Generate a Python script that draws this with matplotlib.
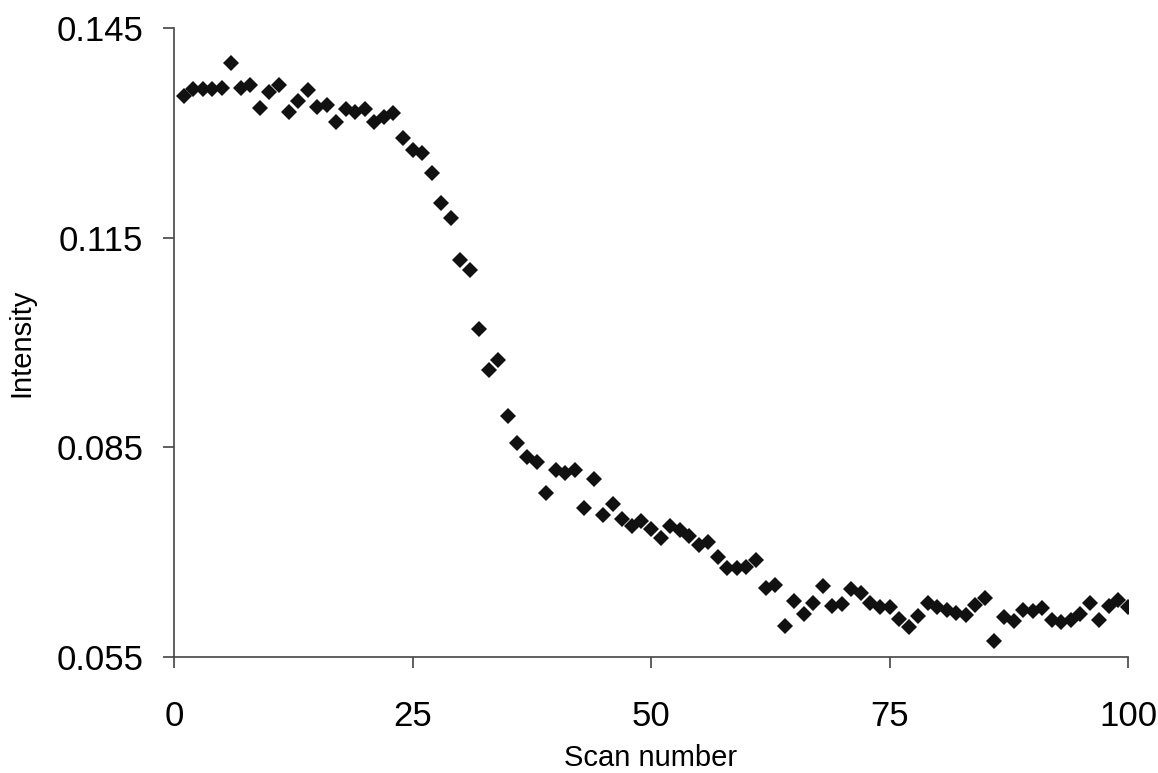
import matplotlib

matplotlib.use("Agg")
import matplotlib.pyplot as plt

scan = list(range(1, 101))
intensity = [
    0.1353, 0.1362, 0.1362, 0.1362, 0.1364, 0.1400, 0.1364, 0.1368, 0.1335, 0.1358,
    0.1368, 0.1330, 0.1345, 0.1361, 0.1337, 0.1340, 0.1316, 0.1334, 0.1330, 0.1334,
    0.1316, 0.1322, 0.1328, 0.1292, 0.1275, 0.1271, 0.1242, 0.1200, 0.1178, 0.1118,
    0.1104, 0.1019, 0.0961, 0.0975, 0.0895, 0.0856, 0.0836, 0.0829, 0.0784, 0.0818,
    0.0813, 0.0818, 0.0763, 0.0805, 0.0753, 0.0769, 0.0747, 0.0737, 0.0744, 0.0733,
    0.0721, 0.0737, 0.0732, 0.0723, 0.0710, 0.0714, 0.0693, 0.0678, 0.0678, 0.0679,
    0.0689, 0.0649, 0.0653, 0.0594, 0.0630, 0.0611, 0.0628, 0.0651, 0.0623, 0.0626,
    0.0647, 0.0642, 0.0628, 0.0621, 0.0622, 0.0604, 0.0593, 0.0609, 0.0628, 0.0622,
    0.0617, 0.0613, 0.0610, 0.0624, 0.0634, 0.0573, 0.0607, 0.0602, 0.0617, 0.0616,
    0.0620, 0.0603, 0.0600, 0.0603, 0.0611, 0.0628, 0.0603, 0.0623, 0.0632, 0.0622,
]
x_ticks = [0, 25, 50, 75, 100]
y_ticks = [0.055, 0.085, 0.115, 0.145]

plt.rcParams["font.family"] = ["Liberation Sans", "DejaVu Sans"]

fig = plt.figure(figsize=(11.58, 7.73), dpi=100)
ax = fig.add_axes([0.1503, 0.150, 0.8238, 0.8138])

ax.plot(scan, intensity, linestyle="none", marker="D", markersize=8,
        color="#111111", markeredgewidth=0)

ax.set_xlim(0, 100)
ax.set_ylim(0.055, 0.145)
ax.set_xticks(x_ticks)
ax.set_yticks(y_ticks)
ax.set_yticklabels([f"{v:.3f}" for v in y_ticks])

for side in ("top", "right"):
    ax.spines[side].set_visible(False)
for side in ("left", "bottom"):
    ax.spines[side].set_color("#444444")
    ax.spines[side].set_linewidth(1.2)

ax.tick_params(axis="both", direction="out", length=8, width=1.2, color="#444444",
               labelsize=25)
ax.tick_params(axis="y", pad=14)
ax.tick_params(axis="x", pad=23)

ax.set_xlabel("Scan number", fontsize=21, labelpad=8)
ax.set_ylabel("Intensity", fontsize=21, labelpad=15)

fig.savefig("out.png", dpi=100)
plt.close(fig)
